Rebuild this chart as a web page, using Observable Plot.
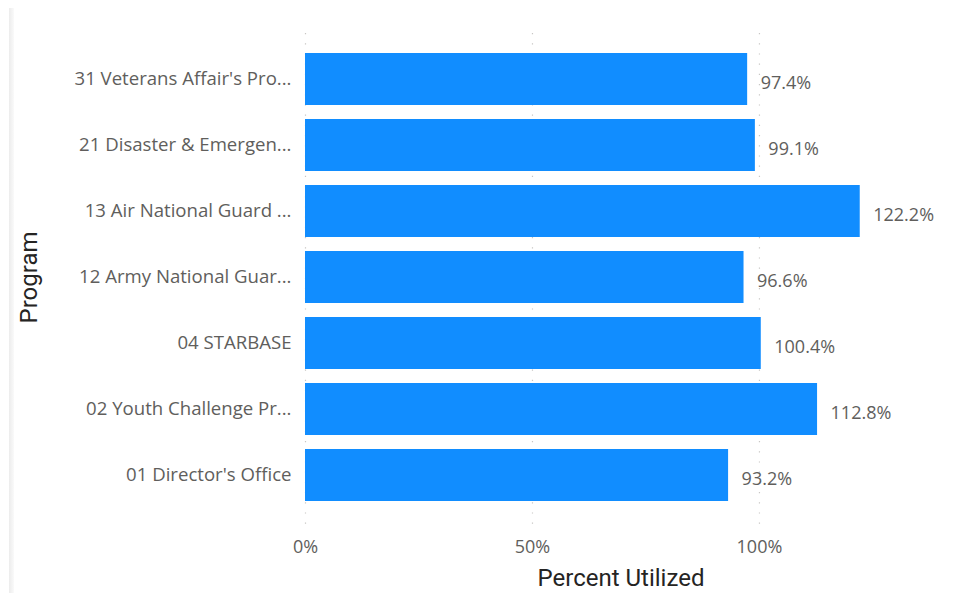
<!DOCTYPE html>
<html>
<head>
<meta charset="utf-8">
<script src="https://cdn.jsdelivr.net/npm/d3@7"></script>
<script src="https://cdn.jsdelivr.net/npm/@observablehq/plot@0.6"></script>
<style>
  html, body { margin: 0; padding: 0; background: #fff; }
  #wrap { position: relative; width: 954px; height: 593px; overflow: hidden; }
  #edge { position: absolute; left: 9px; top: 8px; width: 5px; height: 590px;
          background: linear-gradient(to right, #ececec, #fafafa); }
  #chart { position: absolute; left: 0; top: 0; }
</style>
</head>
<body>
<div id="wrap"><div id="edge"></div><div id="chart"></div></div>
<script>
const programs = [
  "31 Veterans Affair's Pro...",
  "21 Disaster & Emergen...",
  "13 Air National Guard ...",
  "12 Army National Guar...",
  "04 STARBASE",
  "02 Youth Challenge Pr...",
  "01 Director's Office"
];
const percentUtilized = [97.4, 99.1, 122.2, 96.6, 100.4, 112.8, 93.2];
const xTicks = [0, 50, 100];

const data = programs.map((p, i) => ({program: p, value: percentUtilized[i]}));

const chart = Plot.plot({
  width: 954,
  height: 593,
  marginLeft: 305,
  marginRight: 18,
  marginTop: 46,
  marginBottom: 85,
  style: {fontFamily: "'Open Sans', sans-serif", fontSize: "17px", color: "#605E5C", background: "transparent"},
  x: {domain: [0, 139], axis: null},
  y: {domain: programs, padding: 0, axis: null},
  marks: [
    Plot.ruleX(xTicks, {x: d => d, stroke: "#c8c6c4", strokeWidth: 1.2, strokeDasharray: "1.2,9", insetTop: -13, insetBottom: -22}),
    Plot.barX(data, {x: "value", y: "program", fill: "#118DFF", insetTop: 7, insetBottom: 7}),
    Plot.text(data, {x: "value", y: "program", text: d => d.value.toFixed(1) + "%", textAnchor: "start", dx: 13, dy: 4, fill: "#605E5C", fontSize: 18}),
    Plot.axisY({tickSize: 0, tickPadding: 14, fontSize: 18.6, fill: "#605E5C", label: "Program", labelAnchor: "center", labelOffset: 286, labelArrow: "none"}),
    Plot.axisX(xTicks, {tickSize: 0, tickPadding: 32, tickFormat: d => d + "%", fontSize: 18, fill: "#605E5C", label: "Percent Utilized", labelAnchor: "center", labelOffset: 77, labelArrow: "none"})
  ]
});
document.getElementById("chart").appendChild(chart);

// style axis titles
d3.select(chart).selectAll("text").filter(function() { return this.textContent.startsWith("Program") || this.textContent.startsWith("Percent Utilized"); })
  .each(function() { this.textContent = this.textContent.replace(/\s*[→↑←↓]\s*/g, ""); })
  .attr("fill", "#252423").style("font-family", "Roboto, sans-serif").style("font-size", "24px").style("font-weight", "400");
</script>
</body>
</html>
